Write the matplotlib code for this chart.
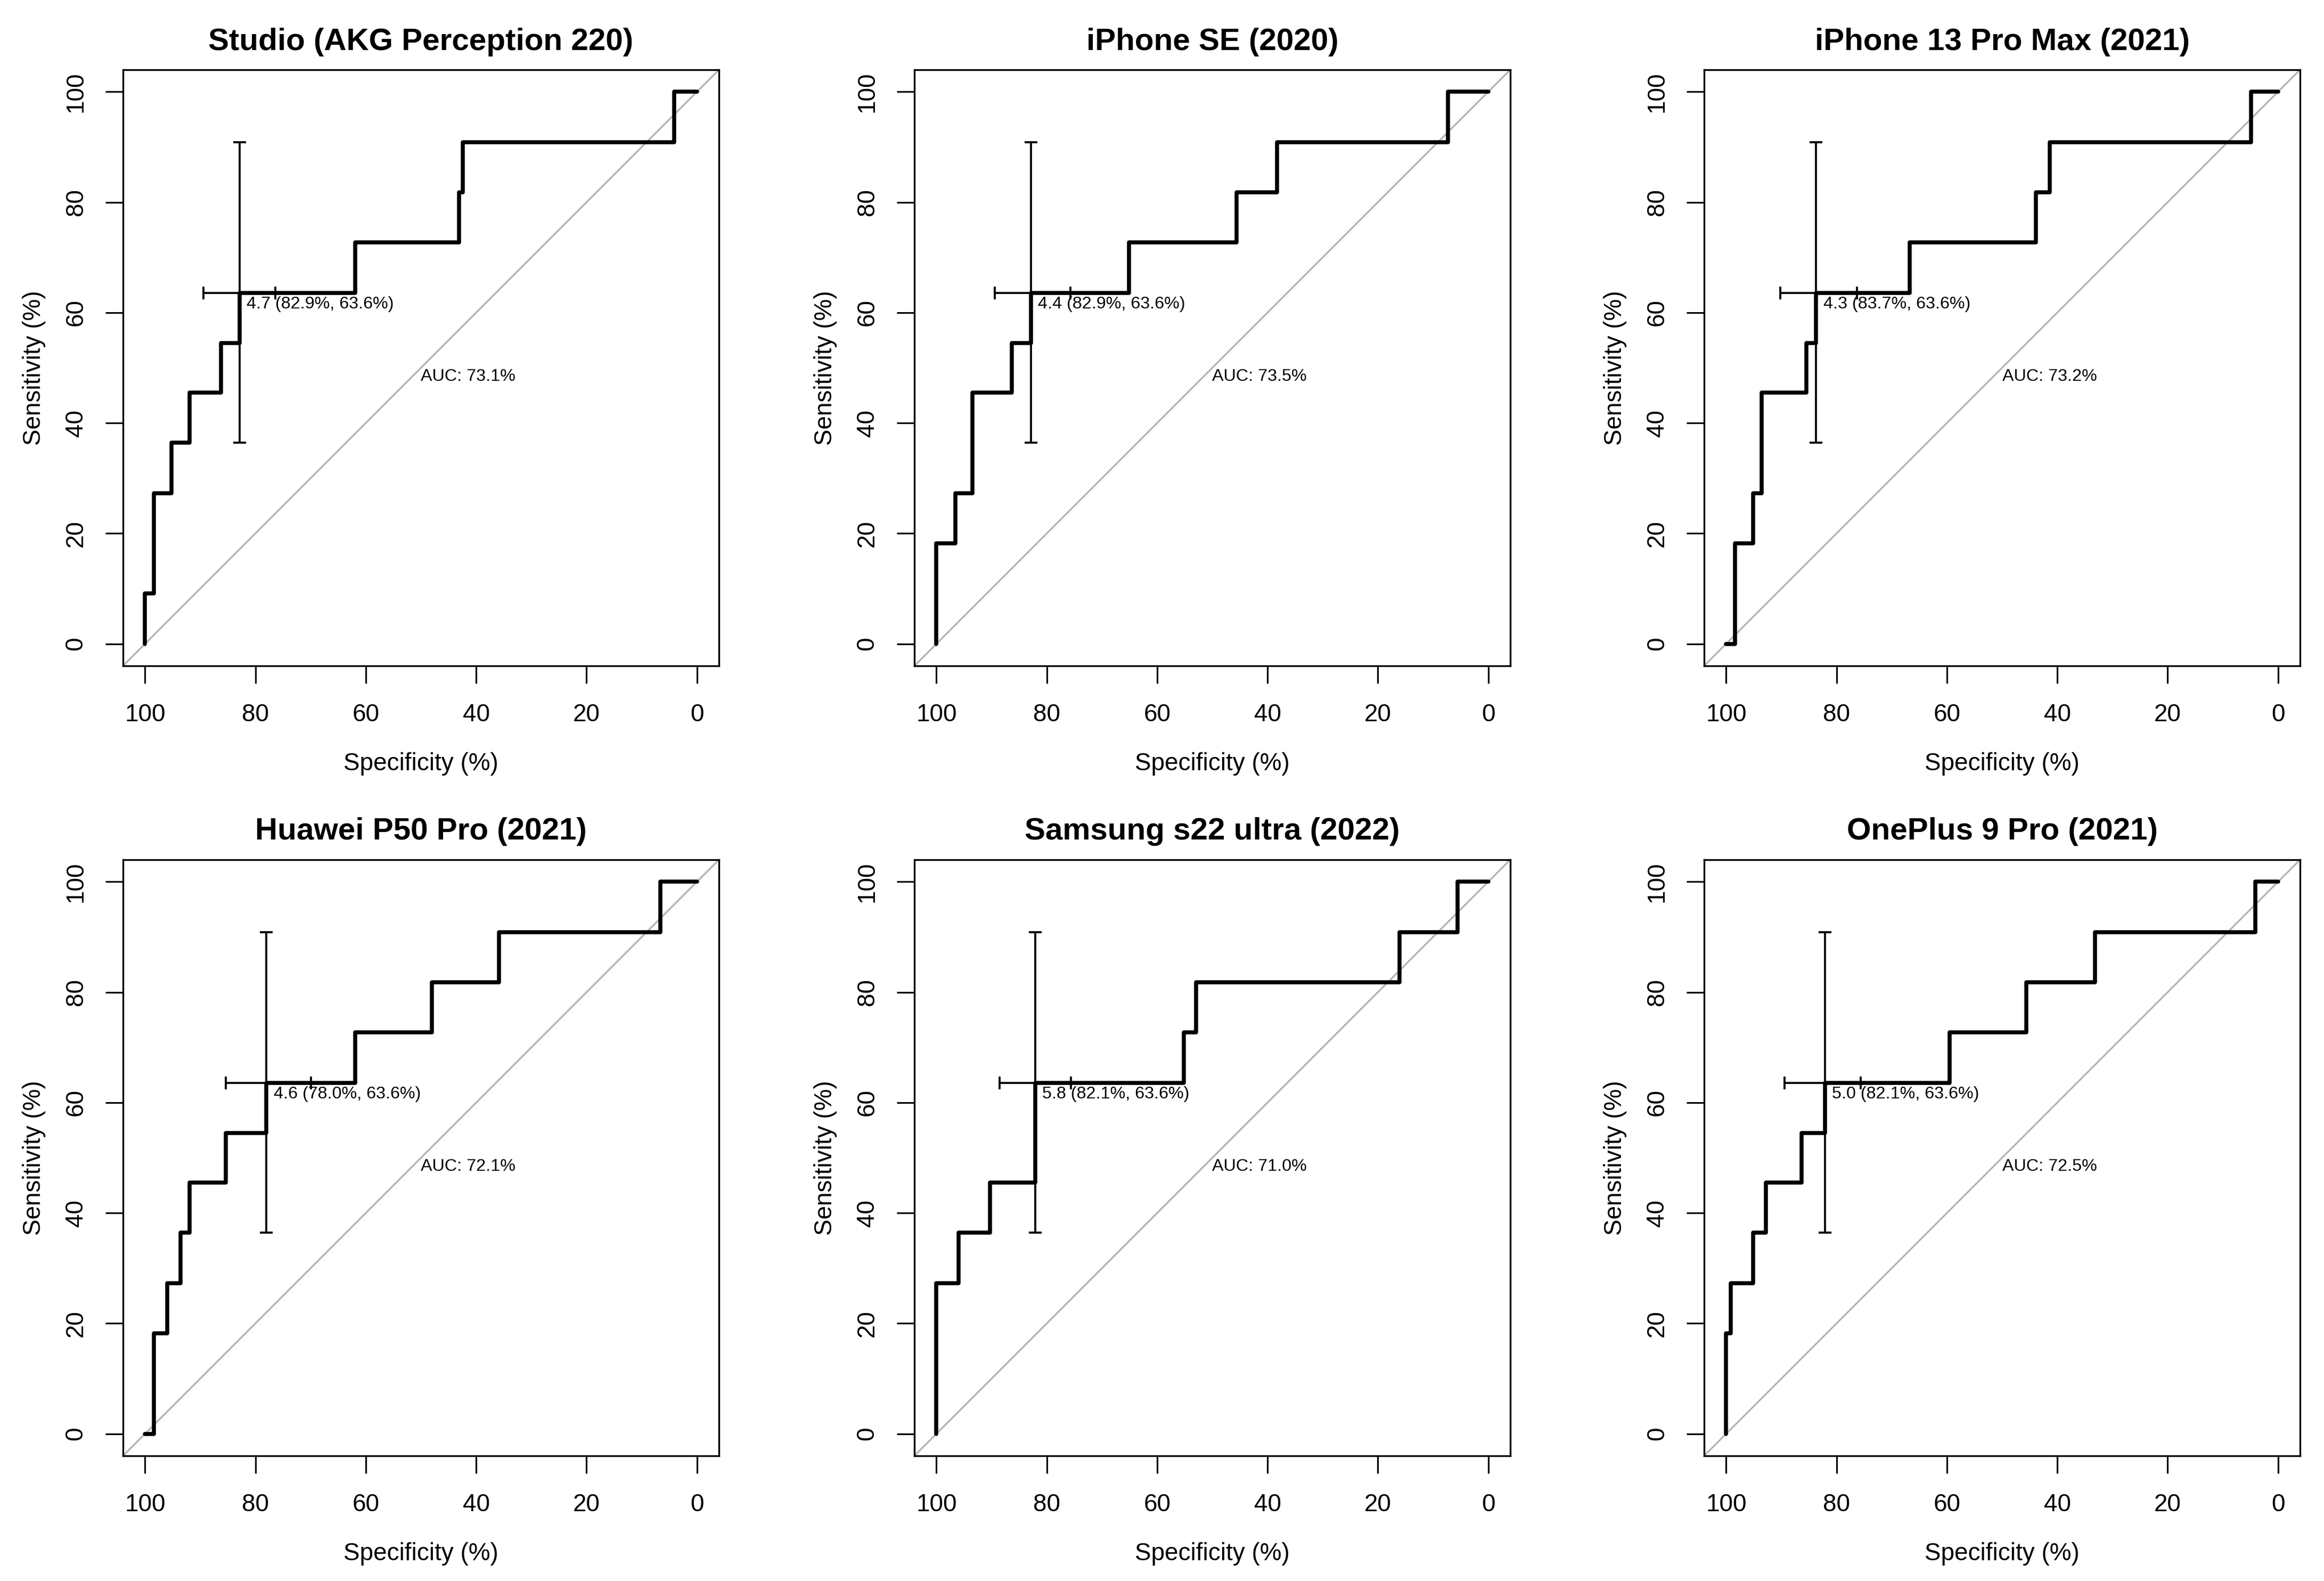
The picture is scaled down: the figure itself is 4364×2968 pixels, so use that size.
import matplotlib
matplotlib.use("Agg")
import matplotlib.pyplot as plt

plt.rcParams['font.family'] = ['Liberation Sans', 'DejaVu Sans']

titles = ["Studio (AKG Perception 220)", "iPhone SE (2020)", "iPhone 13 Pro Max (2021)",
          "Huawei P50 Pro (2021)", "Samsung s22 ultra (2022)", "OnePlus 9 Pro (2021)"]

spec_studio = [100, 100, 98.4, 98.4, 95.2, 95.2, 91.9, 91.9, 86.2, 86.2, 82.9, 82.9, 61.9, 61.9,
               43.1, 43.1, 42.4, 42.4, 4.1, 4.1, 0]
sens_studio = [0, 9.1, 9.1, 27.3, 27.3, 36.4, 36.4, 45.5, 45.5, 54.5, 54.5, 63.6, 63.6, 72.7,
               72.7, 81.8, 81.8, 90.9, 90.9, 100, 100]

spec_se = [100, 100, 96.6, 96.6, 93.5, 93.5, 86.3, 86.3, 82.9, 82.9, 65.1, 65.1, 45.6, 45.6,
           38.3, 38.3, 7.3, 7.3, 0]
sens_se = [0, 18.2, 18.2, 27.3, 27.3, 45.5, 45.5, 54.5, 54.5, 63.6, 63.6, 72.7, 72.7, 81.8,
           81.8, 90.9, 90.9, 100, 100]

spec_13 = [100, 98.4, 98.4, 95.1, 95.1, 93.6, 93.6, 85.5, 85.5, 83.7, 83.7, 66.7, 66.7, 43.9,
           43.9, 41.4, 41.4, 4.9, 4.9, 0]
sens_13 = [0, 0, 18.2, 18.2, 27.3, 27.3, 45.5, 45.5, 54.5, 54.5, 63.6, 63.6, 72.7, 72.7,
           81.8, 81.8, 90.9, 90.9, 100, 100]

spec_huawei = [100, 98.4, 98.4, 96.0, 96.0, 93.6, 93.6, 91.9, 91.9, 85.4, 85.4, 78.0, 78.0, 61.9,
               61.9, 48.0, 48.0, 35.9, 35.9, 6.6, 6.6, 0]
sens_huawei = [0, 0, 18.2, 18.2, 27.3, 27.3, 36.4, 36.4, 45.5, 45.5, 54.5, 54.5, 63.6, 63.6,
               72.7, 72.7, 81.8, 81.8, 90.9, 90.9, 100, 100]

spec_s22 = [100, 100, 96.0, 96.0, 90.3, 90.3, 82.1, 82.1, 55.2, 55.2, 52.9, 52.9, 16.1, 16.1,
            5.6, 5.6, 0]
sens_s22 = [0, 27.3, 27.3, 36.4, 36.4, 45.5, 45.5, 63.6, 63.6, 72.7, 72.7, 81.8, 81.8, 90.9,
            90.9, 100, 100]

spec_oneplus = [100, 100, 99.2, 99.2, 95.1, 95.1, 92.8, 92.8, 86.3, 86.3, 82.1, 82.1, 59.5, 59.5,
                45.6, 45.6, 33.2, 33.2, 4.1, 4.1, 0]
sens_oneplus = [0, 18.2, 18.2, 27.3, 27.3, 36.4, 36.4, 45.5, 45.5, 54.5, 54.5, 63.6, 63.6, 72.7,
                72.7, 81.8, 81.8, 90.9, 90.9, 100, 100]

specs = [spec_studio, spec_se, spec_13, spec_huawei, spec_s22, spec_oneplus]
senss = [sens_studio, sens_se, sens_13, sens_huawei, sens_s22, sens_oneplus]

thr_labels = ["4.7", "4.4", "4.3", "4.6", "5.8", "5.0"]
thr_spec = [82.9, 82.9, 83.7, 78.0, 82.1, 82.1]
thr_sens = [63.6, 63.6, 63.6, 63.6, 63.6, 63.6]
ci_spec_lo = [76.4, 75.7, 76.3, 69.9, 75.6, 75.6]
ci_spec_hi = [89.4, 89.4, 90.2, 85.4, 88.6, 89.4]
ci_sens_lo = [36.4, 36.4, 36.4, 36.4, 36.4, 36.4]
ci_sens_hi = [90.9, 90.9, 90.9, 90.9, 90.9, 90.9]
auc = [73.1, 73.5, 73.2, 72.1, 71.0, 72.5]

ticks = [0, 20, 40, 60, 80, 100]

W, H = 4364, 2968
fig = plt.figure(figsize=(W / 300, H / 300), dpi=300)

lefts = [231, 1717, 3200]
tops = [131, 1614]
size = 1119

for i in range(6):
    r, c = divmod(i, 3)
    ax = fig.add_axes([lefts[c] / W, 1 - (tops[r] + size) / H, size / W, size / H])
    ax.set_xlim(104, -4)
    ax.set_ylim(-4, 104)
    ax.axline((100, 0), (0, 100), color='#b4b4b4', lw=0.8, zorder=1)
    ax.plot(specs[i], senss[i], color='black', lw=1.8, solid_capstyle='round',
            solid_joinstyle='round', zorder=3)
    s = thr_spec[i]
    v = thr_sens[i]
    ax.errorbar([s], [v],
                xerr=[[s - ci_spec_lo[i]], [ci_spec_hi[i] - s]],
                yerr=[[v - ci_sens_lo[i]], [ci_sens_hi[i] - v]],
                fmt='none', ecolor='black', elinewidth=0.9, capsize=2.8, capthick=0.9,
                zorder=4)
    ax.text(s - 1.3, v - 2.1, f"{thr_labels[i]} ({s:.1f}%, {v:.1f}%)", fontsize=7.75,
            ha='left', va='center', zorder=5)
    ax.text(50, 48.4, f"AUC: {auc[i]:.1f}%", fontsize=7.75, ha='left', va='center', zorder=5)

    ax.set_xticks(ticks)
    ax.set_yticks(ticks)
    ax.tick_params(direction='out', length=7.9, width=0.75, labelsize=11)
    ax.tick_params(axis='x', pad=8.8)
    ax.tick_params(axis='y', pad=8.0, labelrotation=90)
    for lab in ax.get_yticklabels():
        lab.set_va('center')
    for sp in ax.spines.values():
        sp.set_linewidth(0.8)
    ax.set_xlabel("Specificity (%)", fontsize=11, labelpad=11.7)
    ax.set_ylabel("Sensitivity (%)", fontsize=11, labelpad=8.3)
    ax.set_title(titles[i], fontsize=14, fontweight='bold', pad=9)

fig.savefig("out.png", dpi=300, facecolor='white')
